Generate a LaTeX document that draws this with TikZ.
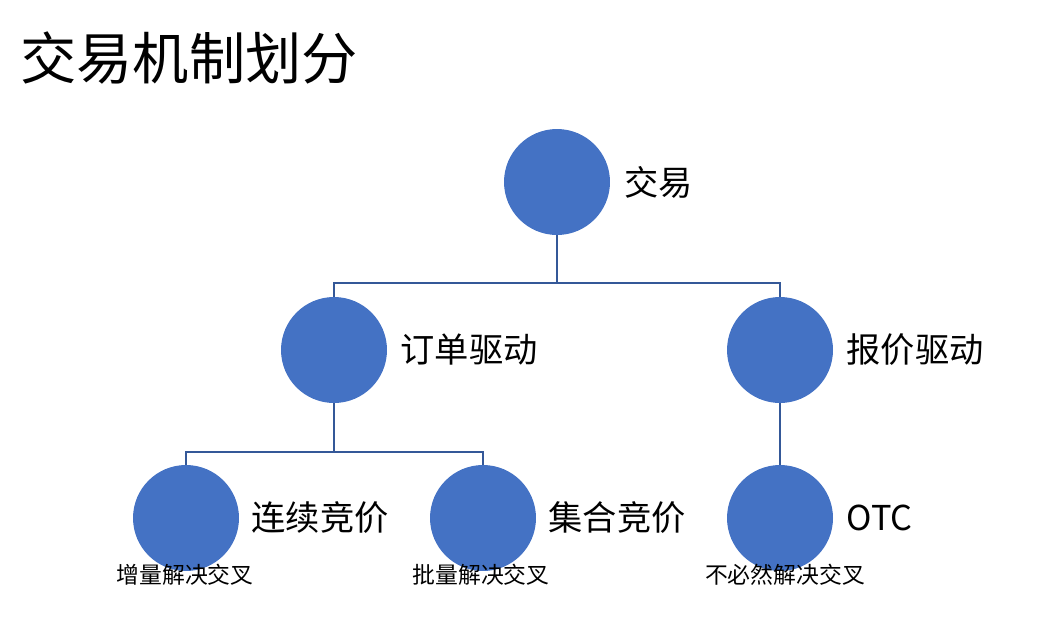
\documentclass[tikz,border=0pt]{standalone}
\usepackage{fontspec}
\setmainfont{Noto Sans CJK SC}
\usepackage{tikz}
\usetikzlibrary{positioning}
\definecolor{Nodo}{RGB}{68,114,196}
\definecolor{Linea}{RGB}{52,88,152}

\begin{document}
\begin{tikzpicture}[
  x=0.02cm, y=-0.02cm,
  bola/.style ={circle, fill=Nodo, draw=none, minimum size=2.12cm, inner sep=0pt},
  etq/.style  ={font=\fontsize{19.5}{22}\selectfont, inner sep=0pt, anchor=west},
  nota/.style ={font=\fontsize{13}{15}\selectfont, inner sep=0pt},
  lin/.style  ={draw=Linea, line width=1.2pt},
]

\useasboundingbox (0,0) rectangle (1047,622);

% Titulo
\node[font=\fontsize{32}{36}\selectfont, inner sep=0pt, anchor=west]
  (titulo) at (20,58) {交易机制划分};

%% Nivel 0
\node[bola] (T)  at (557,182) {};
%% Nivel 1
\node[bola] (OD) at (334,350) {};
\node[bola] (QD) at (780,350) {};
%% Nivel 2
\node[bola] (CA) at (186,518) {};
\node[bola] (JA) at (483,518) {};
\node[bola] (OT) at (780,518) {};

% Etiquetas
\node[etq, right=0.28cm of T]  (lT)  {交易};
\node[etq, right=0.26cm of OD] (lOD) {订单驱动};
\node[etq, right=0.26cm of QD] (lQD) {报价驱动};
\node[etq, right=0.24cm of CA] (lCA) {连续竞价};
\node[etq, right=0.24cm of JA] (lJA) {集合竞价};
\node[etq, right=0.26cm of OT] (lOT) {OTC};

\node[nota] (nCA) at (185,575) {增量解决交叉};
\node[nota] (nJA) at (481,575) {批量解决交叉};
\node[nota] (nOT) at (785,575) {不必然解决交叉};

% Conectores
\coordinate (b0) at (557,283);
\coordinate (b1) at (334,452);
\draw[lin] (T.south) -- (b0);
\draw[lin] (b0) -| (OD.north);
\draw[lin] (b0) -| (QD.north);
\draw[lin] (OD.south) -- (b1);
\draw[lin] (b1) -| (CA.north);
\draw[lin] (b1) -| (JA.north);
\draw[lin] (QD.south) -- (OT.north);

\end{tikzpicture}
\end{document}
